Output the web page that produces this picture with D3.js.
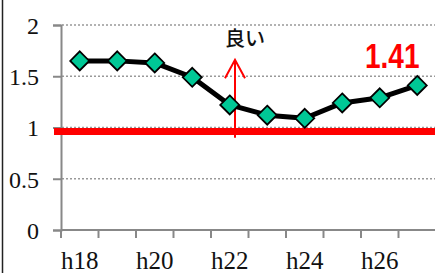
<!DOCTYPE html>
<html>
<head>
<meta charset="utf-8">
<script src="https://cdn.jsdelivr.net/npm/d3@7"></script>
<style>
  body { margin: 0; background: #fff; }
  svg { display: block; }
</style>
</head>
<body>
<script>
// data
var years = ["h18", "h19", "h20", "h21", "h22", "h23", "h24", "h25", "h26", "h27"];
var values = [1.65, 1.65, 1.63, 1.49, 1.22, 1.12, 1.09, 1.24, 1.29, 1.41];
var xTickLabels = ["h18", "h20", "h22", "h24", "h26"];
var yTicks = [0, 0.5, 1, 1.5, 2];
var refValue = 0.96;
var lastLabel = "1.41";
var arrowText = "良い";

var serif = "font-family: 'Liberation Serif', 'DejaVu Serif', 'Times New Roman', Times, serif";

var width = 435, height = 273;
var svg = d3.select("body").append("svg")
    .attr("width", width)
    .attr("height", height);

var x = d3.scaleBand().domain(years).range([61, 436]);
var y = d3.scaleLinear().domain([0, 2]).range([230, 25]);

// frame line on the left
svg.append("line")
    .attr("x1", 2.5).attr("x2", 2.5).attr("y1", 0).attr("y2", height)
    .attr("stroke", "#222").attr("stroke-width", 1.5);

// grid
svg.selectAll(".grid").data(yTicks.filter(function(d){ return d > 0; }))
  .enter().append("line")
    .attr("x1", 62).attr("x2", width)
    .attr("y1", function(d){ return y(d); })
    .attr("y2", function(d){ return y(d); })
    .attr("stroke", "#999").attr("stroke-width", 1.5)
    .attr("stroke-dasharray", "2,2");

// y axis
var yAxis = d3.axisLeft(y).tickValues(yTicks).tickSize(8).tickPadding(14)
    .tickFormat(function(d){ return d; });
var gy = svg.append("g").attr("transform", "translate(61,0)").call(yAxis);
gy.select(".domain").attr("stroke", "#888").attr("stroke-width", 2);
gy.selectAll(".tick line").attr("stroke", "#888").attr("stroke-width", 2);
gy.selectAll(".tick text")
    .attr("style", serif)
    .attr("font-size", 24).attr("fill", "#111").attr("dy", "0.35em");

// x axis (ticks on band edges)
svg.append("line")
    .attr("x1", 61).attr("x2", width).attr("y1", 230).attr("y2", 230)
    .attr("stroke", "#888").attr("stroke-width", 2);
var edges = years.map(function(d){ return x(d); }).concat([x.range()[1]]);
svg.selectAll(".xt").data(edges).enter().append("line")
    .attr("x1", function(d){ return d; }).attr("x2", function(d){ return d; })
    .attr("y1", 230).attr("y2", 238)
    .attr("stroke", "#888").attr("stroke-width", 2);
svg.selectAll(".xl").data(xTickLabels).enter().append("text")
    .attr("style", serif)
    .attr("x", function(d){ return x(d) + x.bandwidth() / 2; })
    .attr("y", 269)
    .attr("text-anchor", "middle")
    .attr("font-size", 25).attr("fill", "#111")
    .text(function(d){ return d; });

// reference line
svg.append("line")
    .attr("x1", 54).attr("x2", width)
    .attr("y1", y(refValue)).attr("y2", y(refValue))
    .attr("stroke", "#ff0000").attr("stroke-width", 7);

// arrow "良い"
var ax = x("h22") + x.bandwidth() * 0.64;
svg.append("line")
    .attr("x1", ax).attr("x2", ax).attr("y1", y(0.9)).attr("y2", y(1.65))
    .attr("stroke", "#ff0000").attr("stroke-width", 2);
svg.append("path")
    .attr("d", d3.line()([[ax - 10, y(1.48)], [ax, y(1.66)], [ax + 10, y(1.48)]]))
    .attr("fill", "none").attr("stroke", "#ff0000").attr("stroke-width", 2);
svg.append("text")
    .attr("x", ax + 10).attr("y", 46)
    .attr("text-anchor", "middle")
    .attr("font-family", "'Noto Sans CJK JP', sans-serif")
    .attr("font-weight", 500)
    .attr("font-size", 20).attr("fill", "#111")
    .text(arrowText);

// data line
var pts = years.map(function(d, i){ return [x(d) + x.bandwidth() / 2, y(values[i])]; });
svg.append("path")
    .attr("d", d3.line()(pts))
    .attr("fill", "none").attr("stroke", "#000").attr("stroke-width", 5)
    .attr("stroke-linejoin", "round");

svg.selectAll(".mk").data(pts).enter().append("path")
    .attr("d", "M0,-9.5L9.5,0L0,9.5L-9.5,0Z")
    .attr("transform", function(d){ return "translate(" + d[0] + "," + d[1] + ")"; })
    .attr("fill", "#00c896").attr("stroke", "#000").attr("stroke-width", 1.8);

// last value label
var lp = pts[pts.length - 1];
svg.append("text")
    .attr("transform", "translate(" + (lp[0] - 25) + ",68) scale(1,1.25)")
    .attr("text-anchor", "middle")
    .attr("font-family", "'Liberation Sans', Arial, sans-serif")
    .attr("font-weight", "bold")
    .attr("font-size", 28).attr("fill", "#ff0000")
    .text(lastLabel);
</script>
</body>
</html>
